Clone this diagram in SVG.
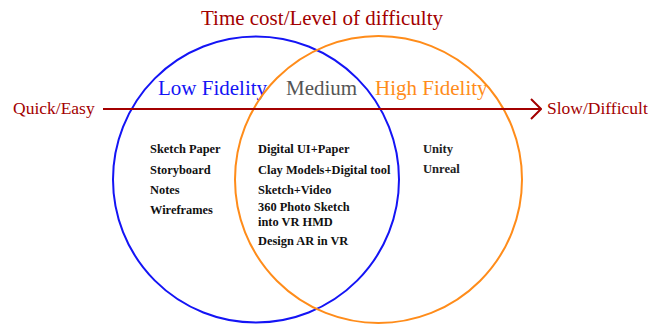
<svg xmlns="http://www.w3.org/2000/svg" width="650" height="327" viewBox="0 0 650 327">
  <defs>
    <style>
      text { font-family: "Liberation Serif", "DejaVu Serif", serif; }
      .axis { fill: #a30000; font-size: 17.5px; }
      .title { fill: #a30000; font-size: 21px; }
      .head { font-size: 21px; }
      .item { fill: #111; font-size: 12.4px; font-weight: bold; }
      .item2 { fill: #222; font-size: 12.6px; font-weight: bold; }
      .ring { fill: none; stroke-width: 2; }
      .conn { stroke: #a30000; stroke-width: 2; fill: none; }
    </style>
    <marker id="chev" viewBox="0 0 12 22" refX="11" refY="11" markerWidth="12" markerHeight="22" markerUnits="userSpaceOnUse" orient="auto">
      <path d="M1,1 L11,11 L1,21" fill="none" stroke="#a30000" stroke-width="2"/>
    </marker>
  </defs>

  <g id="title">
    <text class="title" x="322" y="25" text-anchor="middle">Time cost/Level of difficulty</text>
  </g>

  <g id="low-fidelity">
    <circle class="ring" cx="256" cy="179.5" r="143" stroke="#1414f5"/>
    <text class="head" x="158" y="95" fill="#1414f5">Low Fidelity</text>
  </g>

  <g id="high-fidelity">
    <circle class="ring" cx="378.5" cy="179.5" r="143.5" stroke="#ff8c1a"/>
    <text class="head" x="375" y="95" fill="#ff8c1a">High Fidelity</text>
  </g>

  <g id="medium">
    <text class="head" x="286" y="95" fill="#555555">Medium</text>
  </g>

  <g id="connectors">
    <line class="conn" x1="103" y1="109" x2="541" y2="109" marker-end="url(#chev)"/>
  </g>

  <g id="quick-easy">
    <text class="axis" x="13" y="114">Quick/Easy</text>
  </g>

  <g id="slow-difficult">
    <text class="axis" x="547" y="114">Slow/Difficult</text>
  </g>

  <g id="low-items">
    <text class="item" x="150" y="153">Sketch Paper</text>
    <text class="item" x="150" y="173.5">Storyboard</text>
    <text class="item" x="150" y="194">Notes</text>
    <text class="item" x="150" y="214">Wireframes</text>
  </g>

  <g id="medium-items">
    <text class="item" x="258" y="153">Digital UI+Paper</text>
    <text class="item" x="258" y="173.5">Clay Models+Digital tool</text>
    <text class="item" x="258" y="194">Sketch+Video</text>
    <text class="item" x="258" y="211">360 Photo Sketch</text>
    <text class="item" x="258" y="225.5">into VR HMD</text>
    <text class="item" x="258" y="245">Design AR in VR</text>
  </g>

  <g id="high-items">
    <text class="item2" x="423" y="153">Unity</text>
    <text class="item2" x="423" y="173">Unreal</text>
  </g>
</svg>
